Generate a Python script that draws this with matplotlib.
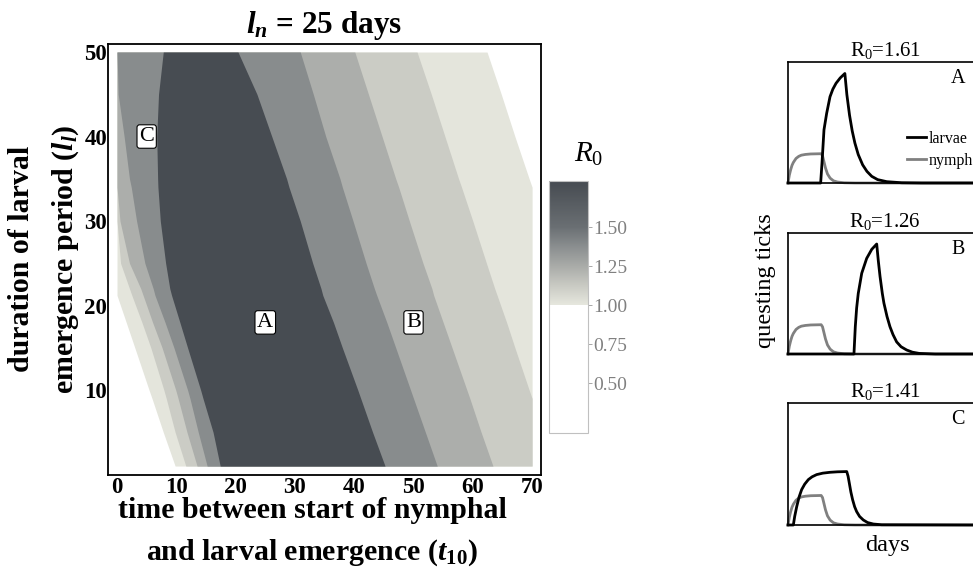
import matplotlib
matplotlib.use("Agg")
import matplotlib.pyplot as plt
from matplotlib.colors import LinearSegmentedColormap, Normalize
from matplotlib.cm import ScalarMappable

plt.rcParams['font.family'] = ['Liberation Serif', 'DejaVu Serif']
plt.rcParams['mathtext.fontset'] = 'custom'
plt.rcParams['mathtext.rm'] = 'Liberation Serif'
plt.rcParams['mathtext.it'] = 'Liberation Serif:italic'
plt.rcParams['mathtext.bf'] = 'Liberation Serif:bold'
plt.rcParams['mathtext.bfit'] = 'Liberation Serif:italic:bold'

# ---------------- data: R0 contour bands (boundaries) -------------
# l_l values (y) at which band boundaries (t10, x) were read
y_grid = [1, 5, 9, 10, 15, 18, 21.2, 22, 25, 30, 34, 35, 40, 45, 50]
# region R0 >= 1.0
vl_left = [9.8, 7.8, 5.9, 5.4, 3.0, 1.55, 0, 0, 0, 0, 0, 0, 0, 0, 0]
vl_right = [70, 70, 70, 70, 70, 70, 70, 70, 70, 70, 70, 69.5, 67.1, 64.8, 62.4]
# region R0 >= 1.125
l_left = [11.6, 9.8, 8.3, 7.9, 5.7, 4.2, 2.5, 2.1, 0.6, 0, 0, 0, 0, 0, 0]
l_right = [70, 70, 70, 69.5, 67.1, 65.7, 64.1, 63.7, 62.3, 60.0, 58.1, 57.6, 55.3, 53.0, 50.6]
# region R0 >= 1.25
m_left = [13.5, 11.8, 10.3, 9.9, 7.6, 6.0, 4.4, 4.0, 2.1, 0.5, 0, 0, 0, 0, 0]
m_right = [63.4, 61.4, 59.5, 59.0, 56.5, 55.0, 53.4, 53.1, 51.6, 49.3, 47.5, 47.0, 44.7, 42.4, 40.1]
# region R0 >= 1.375
d_left = [15.2, 13.7, 12.3, 11.9, 9.6, 8.1, 6.4, 6.1, 4.7, 3.3, 2.4, 2.1, 1.2, 0.2, 0]
d_right = [54.0, 52.0, 50.0, 49.5, 47.0, 45.5, 43.8, 43.4, 42.0, 39.8, 38.0, 37.6, 35.2, 33.1, 30.9]
# region R0 >= 1.5
dd_left = [17.4, 16.2, 14.5, 14.1, 11.9, 10.6, 9.2, 8.9, 8.2, 7.3, 6.9, 6.85, 6.7, 7.0, 7.8]
dd_right = [45.2, 43.1, 41.1, 40.6, 38.0, 36.5, 34.7, 34.4, 33.0, 30.9, 29.0, 28.6, 26.1, 23.6, 20.4]

band_levels = [1.0, 1.125, 1.25, 1.375, 1.5]
band_colors = ['#e4e5dc', '#cbccc5', '#acaeab', '#888c8d', '#474c52']

x_ticks = [0, 10, 20, 30, 40, 50, 60, 70]
y_ticks = [10, 20, 30, 40, 50]

label_names = ['A', 'B', 'C']
label_t10 = [25, 50, 5]
label_ll = [18, 18, 40]

cbar_min, cbar_max = 0.18, 1.795
cbar_ticks = [0.50, 0.75, 1.00, 1.25, 1.50]

# ---------------- data: questing tick curves ----------------
nymph_t = [0, 1, 2, 3, 4, 6, 8, 10, 13, 17, 21, 24.8, 25.8, 26.8, 28, 29.5, 31.5, 34, 37, 42, 50, 145]
nymph_y = [0, 0.065, 0.11, 0.146, 0.17, 0.203, 0.22, 0.23, 0.236, 0.24, 0.241, 0.242,
           0.225, 0.18, 0.125, 0.075, 0.04, 0.018, 0.008, 0.002, 0, 0]

larvA_t = [0, 24.4, 25.4, 26.9, 28.9, 31.4, 33.5, 35.9, 39, 42.5, 44, 46, 48, 50, 52.5,
           55.8, 59, 62.6, 67, 73.8, 85, 100, 145]
larvA_y = [0, 0, 0.163, 0.44, 0.576, 0.713, 0.775, 0.824, 0.868, 0.905, 0.73, 0.56, 0.43,
           0.33, 0.235, 0.15, 0.096, 0.055, 0.028, 0.011, 0.002, 0, 0]

larvB_t = [0, 49.3, 50.3, 51.3, 52.5, 55.1, 58.8, 62.6, 66.3, 67.5, 68.8, 70.5, 71.7, 74,
           76.2, 78.5, 81.2, 84.5, 88.7, 93, 98, 110, 145]
larvB_y = [0, 0, 0.226, 0.38, 0.50, 0.667, 0.79, 0.865, 0.909, 0.77, 0.64, 0.5, 0.42, 0.31,
           0.226, 0.16, 0.10, 0.06, 0.033, 0.015, 0.005, 0, 0]

larvC_t = [0, 4.0, 5.0, 6.5, 8.3, 10.2, 12.5, 15.2, 18, 21.4, 26, 31.4, 37, 43.9, 44.9,
           45.8, 47, 48.3, 49.8, 51.3, 53.5, 56.3, 59.5, 63.8, 70, 145]
larvC_y = [0, 0, 0.07, 0.15, 0.23, 0.29, 0.335, 0.372, 0.395, 0.413, 0.425, 0.432, 0.436,
           0.438, 0.40, 0.345, 0.27, 0.207, 0.15, 0.11, 0.07, 0.041, 0.02, 0.008, 0.002, 0]

panel_letters = ['A', 'B', 'C']
panel_r0 = ['1.61', '1.26', '1.41']
panel_larvae = [(larvA_t, larvA_y), (larvB_t, larvB_y), (larvC_t, larvC_y)]

# ---------------- figure ----------------
W, H = 973, 573
fig = plt.figure(figsize=(W / 100, H / 100), dpi=100)


def fbox(l, t, r, b):
    return [l / W, (H - b) / H, (r - l) / W, (b - t) / H]


ax = fig.add_axes(fbox(108, 44, 541, 475))
bounds = [(vl_left, vl_right), (l_left, l_right), (m_left, m_right),
          (d_left, d_right), (dd_left, dd_right)]
for (lft, rgt), col in zip(bounds, band_colors):
    ax.fill_betweenx(y_grid, lft, rgt, color=col, lw=0)

ax.set_xlim(-1.52, 71.5)
ax.set_ylim(-0.06, 50.95)
ax.set_xticks(x_ticks)
ax.set_xticklabels([str(v) for v in x_ticks], fontweight='bold', fontsize=16.5)
ax.set_yticks(y_ticks)
ax.set_yticklabels([str(v) for v in y_ticks], fontweight='bold', fontsize=16.5)
ax.tick_params(axis='both', length=0)
ax.tick_params(axis='x', pad=1.5)
ax.tick_params(axis='y', pad=0.5)
for s in ax.spines.values():
    s.set_linewidth(1.3)

for name, xv, yv in zip(label_names, label_t10, label_ll):
    ax.text(xv, yv, name, ha='center', va='center', fontsize=16,
            bbox=dict(boxstyle='round,pad=0.1,rounding_size=0.12', fc='white',
                      ec='black', lw=0.8))

fig.text(324 / W, (H - 33) / H, r'$\mathbfit{l}_{\mathbfit{n}}$ = 25 days',
         ha='center', va='baseline', fontsize=22.5, fontweight='bold')
fig.text(312 / W, (H - 510) / H, 'time between start of nymphal',
         ha='center', va='center', fontsize=21.5, fontweight='bold')
fig.text(312 / W, (H - 553) / H, r'and larval emergence ($\mathbfit{t}_{\mathbf{10}}$)',
         ha='center', va='center', fontsize=21.5, fontweight='bold')
fig.text(22 / W, (H - 259) / H, 'duration of larval', rotation=90,
         ha='center', va='center', fontsize=21.5, fontweight='bold')
fig.text(66 / W, (H - 259) / H, r'emergence period ($\mathbfit{l}_{\mathbfit{l}}$)',
         rotation=90, ha='center', va='center', fontsize=21.5, fontweight='bold')

# colorbar
span = cbar_max - cbar_min
stops = [cbar_min, 0.9999, 1.0] + band_levels[1:] + [cbar_max]
stop_cols = ['#ffffff', '#ffffff', '#e6e7de', '#c9cac3', '#a9aba8', '#8a8e8f', '#6a6f73', '#464b51']
cmap = LinearSegmentedColormap.from_list(
    'r0', [((v - cbar_min) / span, c) for v, c in zip(stops, stop_cols)], N=1024)
cax = fig.add_axes(fbox(549, 181, 588, 433))
cb = fig.colorbar(ScalarMappable(norm=Normalize(cbar_min, cbar_max), cmap=cmap),
                  cax=cax, ticks=cbar_ticks)
cb.set_ticklabels(['%.2f' % v for v in cbar_ticks])
cb.outline.set_edgecolor('#c0c0c0')
cb.outline.set_linewidth(0.8)
cax.tick_params(length=3, width=0.6, color='#999999', labelcolor='#808080',
                labelsize=14, pad=1)
fig.text(589 / W, (H - 162) / H, r'$R_0$', ha='center', va='baseline', fontsize=21)

# right-hand panels
panel_boxes = [(62, 183), (233, 354), (403, 525)]
for i, ((top, bot), (lt, ly)) in enumerate(zip(panel_boxes, panel_larvae)):
    pax = fig.add_axes(fbox(788, top, 982, bot))
    pax.plot(nymph_t, nymph_y, color='#808080', lw=2.0, label='nymphs', clip_on=False)
    pax.plot(lt, ly, color='black', lw=2.0, label='larvae', clip_on=False)
    pax.set_xlim(0, 145)
    pax.set_ylim(0, 1)
    pax.set_xticks([])
    pax.set_yticks([])
    for s in pax.spines.values():
        s.set_linewidth(1.2)
    pax.set_title(r'$\mathrm{R}_0$=' + panel_r0[i], fontsize=15, pad=4)
    pax.text(0.876, 0.865, panel_letters[i], transform=pax.transAxes,
             ha='center', va='center', fontsize=14.5)
    if i == 0:
        h, lab = pax.get_legend_handles_labels()
        pax.legend(h[::-1], lab[::-1], loc='upper left', bbox_to_anchor=(0.615, 0.43),
                   frameon=False, fontsize=11.5, handlelength=1.2, handletextpad=0.15,
                   labelspacing=0.35, borderpad=0, borderaxespad=0)

fig.text(765 / W, (H - 281) / H, 'questing ticks', rotation=90, ha='center',
         va='center', fontsize=17.5)
fig.text(887 / W, (H - 545) / H, 'days', ha='center', va='center', fontsize=17.5)

fig.savefig('out.png', dpi=100)
